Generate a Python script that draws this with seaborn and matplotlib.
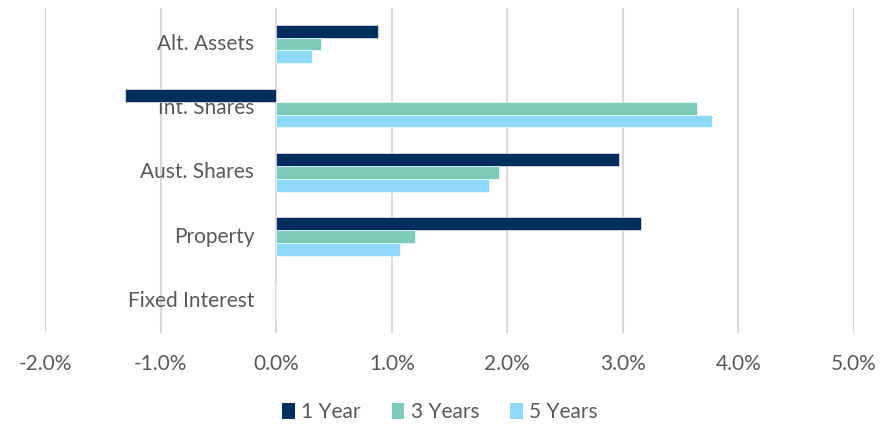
import matplotlib
matplotlib.use("Agg")
import matplotlib.pyplot as plt
import matplotlib.transforms as mtransforms
from matplotlib.ticker import FuncFormatter, MultipleLocator
from matplotlib.patches import Patch
import seaborn as sns
import pandas as pd

categories = ["Alt. Assets", "Int. Shares", "Aust. Shares", "Property", "Fixed Interest"]
series = ["1 Year", "3 Years", "5 Years"]
one_year = [0.88, -1.31, 2.97, 3.16, 0.0]
three_years = [0.39, 3.64, 1.93, 1.20, 0.0]
five_years = [0.31, 3.77, 1.84, 1.07, 0.0]
colors = ["#002F5F", "#7CCBBB", "#8ED8F8"]

rows = []
for name, vals in zip(series, [one_year, three_years, five_years]):
    for c, v in zip(categories, vals):
        rows.append({"cat": c, "series": name, "val": v})
df = pd.DataFrame(rows)

sns.set_theme(style="white")
plt.rcParams["font.family"] = ["Lato", "DejaVu Sans"]

fig = plt.figure(figsize=(8.8, 4.24), dpi=100)
ax = fig.add_axes([45 / 880, 1 - 333 / 424, (854 - 45) / 880, (333 - 8) / 424])

sns.barplot(data=df, x="val", y="cat", hue="series", order=categories,
            hue_order=series, palette=colors, orient="h", width=0.6,
            ax=ax, legend=False, saturation=1, zorder=3,
            edgecolor="white", linewidth=0.4)

ax.set_xlim(-2.0, 5.0)
ax.set_ylim(4.5, -0.56)
ax.xaxis.set_major_locator(MultipleLocator(1.0))
ax.xaxis.set_major_formatter(FuncFormatter(lambda v, p: f"{v:.1f}%"))
ax.grid(axis="x", color="#d9d9d9", linewidth=1.5, zorder=0)
ax.grid(axis="y", visible=False)
for s in ax.spines.values():
    s.set_visible(False)
ax.set_xlabel("")
ax.set_ylabel("")
ax.set_yticks([])
ax.tick_params(axis="x", length=0, pad=15, labelsize=15, labelcolor="#595959")

offset = mtransforms.ScaledTranslation(-22 / 100, 0, fig.dpi_scale_trans)
for i, c in enumerate(categories):
    ax.text(0, i, c, ha="right", va="center", fontsize=15, color="#595959",
            transform=ax.transData + offset, zorder=1)

handles = [Patch(facecolor=col, edgecolor="none", label=s) for s, col in zip(series, colors)]
fig.legend(handles=handles, loc="center", bbox_to_anchor=(0.5, 1 - 412 / 424),
           ncol=3, frameon=False, fontsize=15, labelcolor="#595959",
           handlelength=0.6, handleheight=0.8, handletextpad=0.3, columnspacing=1.5)

fig.savefig("out.png", dpi=100)
